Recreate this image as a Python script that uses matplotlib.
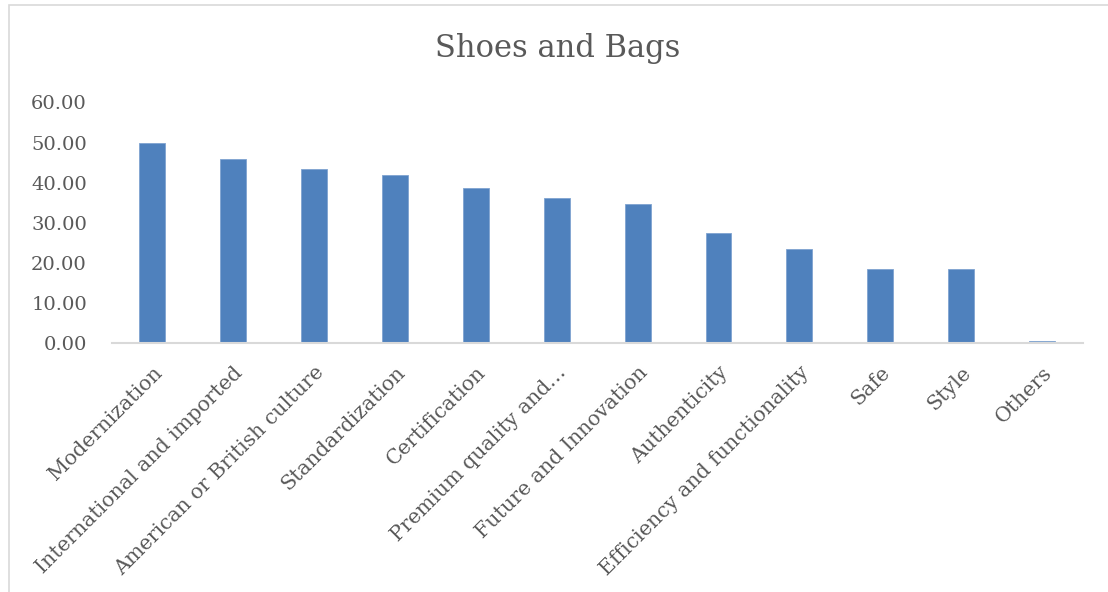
import matplotlib
matplotlib.use('Agg')
import matplotlib.pyplot as plt
from matplotlib.patches import Rectangle
from matplotlib.transforms import ScaledTranslation

# Category labels and scores for the shoes and bags group
categories = [
    'Modernization', 'International and imported', 'American or British culture',
    'Standardization', 'Certification', 'Premium quality and\u2026',
    'Future and Innovation', 'Authenticity', 'Efficiency and functionality',
    'Safe', 'Style', 'Others',
]
scores = [50.0, 45.9, 43.5, 41.9, 38.7, 36.2, 34.7, 27.4, 23.4, 18.5, 18.5, 0.58]
y_ticks = [0, 10, 20, 30, 40, 50, 60]

bar_color = '#4F81BD'
text_color = '#595959'
line_color = '#D9D9D9'

plt.rcParams['font.family'] = ['DejaVu Serif']

fig = plt.figure(figsize=(11.08, 5.92), dpi=100)
ax = fig.add_axes([0.101, 0.42, 0.876, 0.407])

x = range(len(categories))
ax.bar(x, scores, width=0.32, color=bar_color, edgecolor='#7FA3D0', linewidth=0.6, zorder=2)

ax.set_xlim(-0.5, len(categories) - 0.5)
ax.set_ylim(0, 60)
ax.set_yticks(y_ticks)
ax.set_yticklabels([f'{v:.2f}' for v in y_ticks], fontsize=14, color=text_color)
ax.set_xticks(list(x))
ax.set_xticklabels(categories, rotation=45, ha='right', rotation_mode='anchor',
                   fontsize=14.8, color=text_color)

# nudge the rotated labels slightly left
shift = ScaledTranslation(-5 / 100, 0, fig.dpi_scale_trans)
for lbl in ax.get_xticklabels():
    lbl.set_transform(lbl.get_transform() + shift)

for side in ['top', 'right', 'left']:
    ax.spines[side].set_visible(False)
ax.spines['bottom'].set_color(line_color)
ax.spines['bottom'].set_linewidth(1.5)
ax.tick_params(axis='both', length=0)
ax.tick_params(axis='y', pad=18)
ax.tick_params(axis='x', pad=14)

fig.text(0.503, 0.918, 'Shoes and Bags', ha='center', va='center',
         fontsize=22, color=text_color)

# light chart border along the top and left edges
fig.patches.append(Rectangle((0.008, -0.1), 1.2, 1.092, transform=fig.transFigure,
                             fill=False, edgecolor=line_color, linewidth=1.2))

fig.savefig('out.png', dpi=100)
